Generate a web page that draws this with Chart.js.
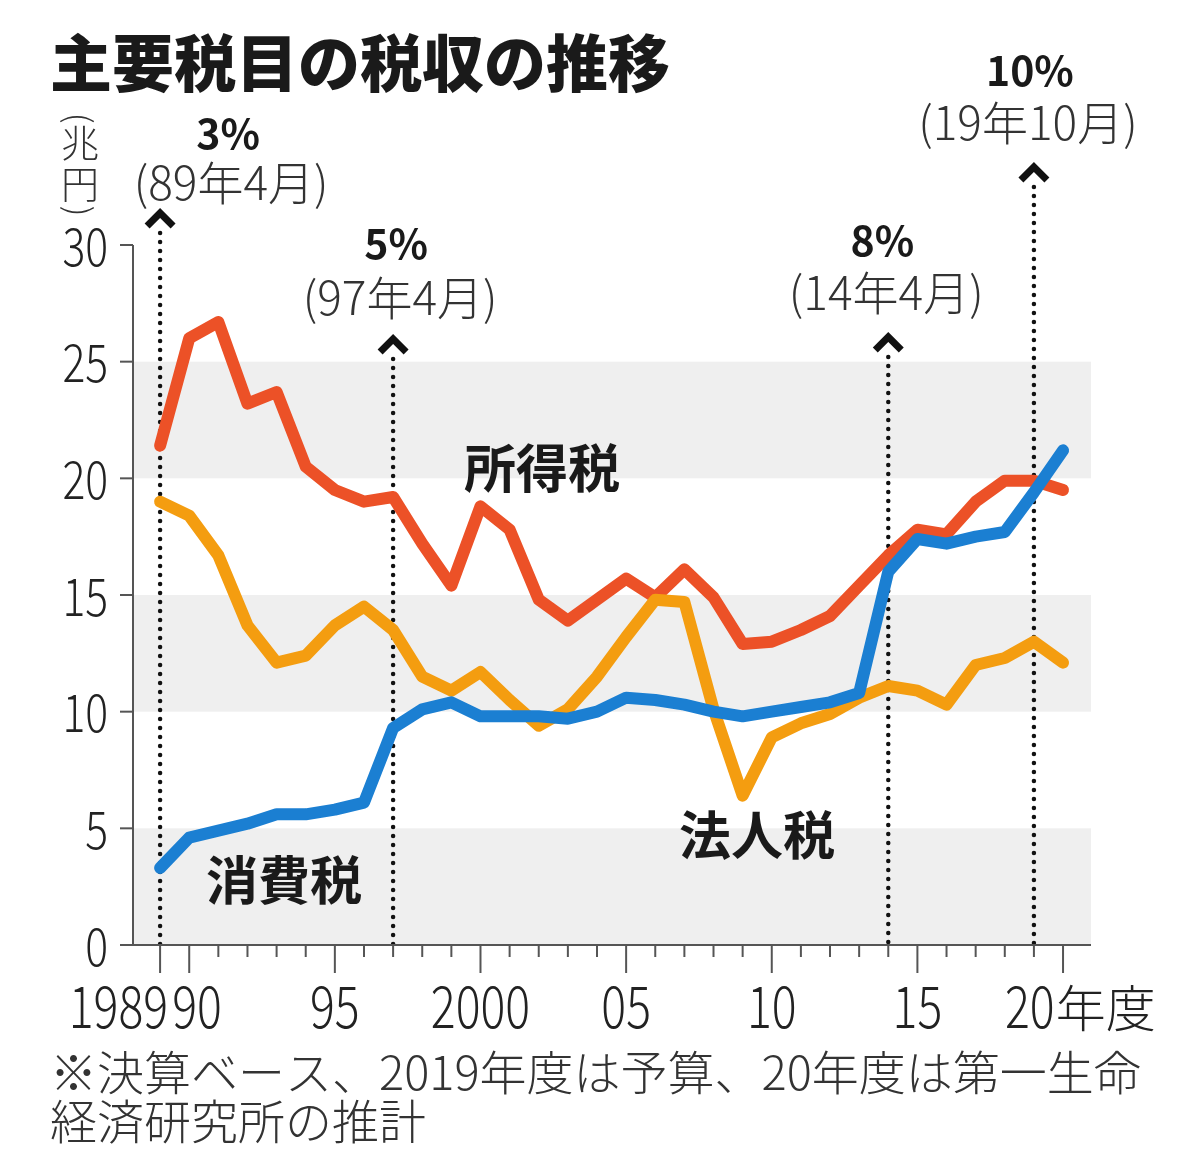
<!DOCTYPE html>
<html><head><meta charset="utf-8">
<script src="https://cdn.jsdelivr.net/npm/chart.js@4.4.1/dist/chart.umd.min.js"></script>
<style>html,body{margin:0;padding:0;background:#fff;}canvas{display:block;}</style>
</head><body>
<canvas id="c" width="1191" height="1176"></canvas>
<script>
// ---- data ----
const years = [1989,1990,1991,1992,1993,1994,1995,1996,1997,1998,1999,2000,2001,2002,2003,2004,2005,2006,2007,2008,2009,2010,2011,2012,2013,2014,2015,2016,2017,2018,2019,2020];
const incomeTax = [21.4,26.0,26.7,23.2,23.7,20.5,19.5,19.0,19.2,17.2,15.4,18.8,17.8,14.8,13.9,14.8,15.7,14.9,16.1,14.9,12.9,13.0,13.5,14.1,15.4,16.7,17.8,17.6,19.0,19.9,19.9,19.5];
const corporateTax = [19.0,18.4,16.7,13.7,12.1,12.4,13.7,14.5,13.5,11.5,10.9,11.7,10.5,9.4,10.1,11.5,13.2,14.8,14.7,10.1,6.4,8.9,9.5,9.9,10.6,11.1,10.9,10.3,12.0,12.3,13.0,12.1];
const consumptionTax = [3.3,4.6,4.9,5.2,5.6,5.6,5.8,6.1,9.3,10.1,10.4,9.8,9.8,9.8,9.7,10.0,10.6,10.5,10.3,10.0,9.8,10.0,10.2,10.4,10.8,16.0,17.4,17.2,17.5,17.7,19.4,21.2];
const seriesNames = ['所得税','法人税','消費税'];
const yTicks = [0,5,10,15,20,25,30];
const bandRanges = [[0,5],[10,15],[20,25]];
const labelYears = [1989,1990,1995,2000,2005,2010,2015,2020];
const labelTexts = ['1989','90','95','2000','05','10','15','20'];
const unitSuffix = '年度';
const eventYears = [1989,1997,2014,2019];
const eventRates = ['3%','5%','8%','10%'];
const eventDates = ['(89年4月)','(97年4月)','(14年4月)','(19年10月)'];
const titleText = '主要税目の税収の推移';
const unitChars = ['兆','円'];
const noteLines = ['※決算ベース、2019年度は予算、20年度は第一生命','経済研究所の推計'];

// ---- layout / style (not data) ----
const JP_FONT = "'Noto Sans CJK JP','Noto Sans CJK SC',sans-serif";
const COLORS = ['#ec5127','#f49d10','#1b7fd2'];
// per event: [rate dx, rate y, date dx, date y, chevron top y]
const eventLayout = [[68,133,71,183,208],[3,243,7,298,334],[-6,240,-2,293,332],[-4,70,-6,123,162]];
const seriesLabelPos = [[542,468],[757,835],[284,880]];

function pts(arr){ return years.map((y,i)=>({x:y,y:arr[i]})); }

// condensed text: draws with horizontal squeeze sx
function drawCond(ctx, text, x, y, align, font, sx){
  ctx.save();
  ctx.font = font;
  const w = ctx.measureText(text).width * sx;
  let left = x;
  if (align === 'right') left = x - w;
  else if (align === 'center') left = x - w/2;
  ctx.translate(left, y);
  ctx.scale(sx, 1);
  ctx.textAlign = 'left';
  ctx.fillText(text, 0, 0);
  ctx.restore();
  return w;
}

const bgPlugin = {
  id:'bg',
  beforeDatasetsDraw(chart){
    const {ctx, chartArea:a, scales:{x,y}} = chart;
    ctx.save();
    ctx.fillStyle = '#efefef';
    bandRanges.forEach(([lo,hi])=>{
      const t = y.getPixelForValue(hi), b = y.getPixelForValue(lo);
      ctx.fillRect(a.left, t, a.right-a.left, b-t);
    });
    ctx.strokeStyle = '#111';
    ctx.lineWidth = 4.5;
    ctx.lineCap = 'round';
    ctx.setLineDash([0,9]);
    eventYears.forEach((ev,i)=>{
      const px = x.getPixelForValue(ev);
      ctx.beginPath();
      ctx.moveTo(px, eventLayout[i][4]+25);
      ctx.lineTo(px, y.getPixelForValue(0));
      ctx.stroke();
    });
    ctx.setLineDash([]);
    ctx.strokeStyle = '#555';
    ctx.lineWidth = 2;
    ctx.lineCap = 'butt';
    ctx.beginPath();
    ctx.moveTo(a.left, y.getPixelForValue(30));
    ctx.lineTo(a.left, y.getPixelForValue(0));
    ctx.stroke();
    const y0 = y.getPixelForValue(0);
    ctx.beginPath();
    ctx.moveTo(a.left-13, y0);
    ctx.lineTo(a.right, y0);
    ctx.stroke();
    yTicks.forEach(v=>{
      const py = y.getPixelForValue(v);
      ctx.beginPath(); ctx.moveTo(a.left-13, py); ctx.lineTo(a.left, py); ctx.stroke();
    });
    years.forEach(yr=>{
      const px = x.getPixelForValue(yr);
      const len = labelYears.includes(yr) ? 28 : 12;
      ctx.beginPath(); ctx.moveTo(px, y0); ctx.lineTo(px, y0+len); ctx.stroke();
    });
    ctx.restore();
  }
};

const fgPlugin = {
  id:'fg',
  afterDraw(chart){
    const {ctx, scales:{x,y}} = chart;
    ctx.save();
    ctx.textBaseline = 'middle';
    // y tick labels
    ctx.fillStyle = '#222';
    const yFont = '300 52px ' + JP_FONT;
    yTicks.forEach(v=>{
      drawCond(ctx, String(v), 108, y.getPixelForValue(v)+1, 'right', yFont, 0.82);
    });
    // x tick labels
    const xFont = '300 58px ' + JP_FONT;
    const ly = 1006;
    labelYears.forEach((yr,i)=>{
      const px = x.getPixelForValue(yr);
      const t = labelTexts[i];
      if (i===0) drawCond(ctx, t, px+8, ly, 'right', xFont, 0.8);
      else if (i===1) drawCond(ctx, t, px-17, ly, 'left', xFont, 0.8);
      else if (i===labelYears.length-1){
        const w = drawCond(ctx, t, px-58, ly, 'left', xFont, 0.8);
        ctx.font = '300 50px ' + JP_FONT;
        ctx.textAlign = 'left';
        ctx.fillText(unitSuffix, px-58+w+1, ly+2);
      } else drawCond(ctx, t, px, ly, 'center', xFont, 0.8);
    });
    // title
    ctx.fillStyle = '#1a1a1a';
    ctx.textAlign = 'left';
    ctx.font = '900 62px ' + JP_FONT;
    ctx.fillText(titleText, 50, 63);
    // unit (vertical)
    ctx.fillStyle = '#333';
    ctx.font = '300 38px ' + JP_FONT;
    ctx.textAlign = 'center';
    ctx.fillText(unitChars[0], 80, 143);
    ctx.fillText(unitChars[1], 80, 184);
    [['(',118],[')',211]].forEach(([ch,cy])=>{
      ctx.save(); ctx.translate(80, cy); ctx.rotate(Math.PI/2);
      ctx.font = '300 34px ' + JP_FONT;
      ctx.fillText(ch, 0, 0); ctx.restore();
    });
    // events
    eventYears.forEach((ev,i)=>{
      const px = x.getPixelForValue(ev);
      const L = eventLayout[i];
      ctx.fillStyle = '#1a1a1a';
      ctx.textAlign = 'center';
      ctx.font = 'bold 41px ' + JP_FONT;
      ctx.fillText(eventRates[i], px+L[0], L[1]);
      ctx.fillStyle = '#333';
      ctx.font = '300 46px ' + JP_FONT;
      ctx.fillText(eventDates[i], px+L[2], L[3]);
      ctx.strokeStyle = '#111';
      ctx.lineWidth = 7;
      ctx.lineJoin = 'miter';
      ctx.lineCap = 'butt';
      ctx.beginPath();
      ctx.moveTo(px-13, L[4]+18);
      ctx.lineTo(px, L[4]+5);
      ctx.lineTo(px+13, L[4]+18);
      ctx.stroke();
    });
    // series labels
    ctx.fillStyle = '#1a1a1a';
    ctx.font = 'bold 52px ' + JP_FONT;
    ctx.textAlign = 'center';
    seriesNames.forEach((n,i)=>{
      ctx.fillText(n, seriesLabelPos[i][0], seriesLabelPos[i][1]);
    });
    // footnote
    ctx.fillStyle = '#333';
    ctx.textAlign = 'left';
    ctx.font = '300 47px ' + JP_FONT;
    ctx.fillText(noteLines[0], 50, 1072);
    ctx.fillText(noteLines[1], 50, 1121);
    ctx.restore();
  }
};

new Chart(document.getElementById('c').getContext('2d'), {
  type:'line',
  data:{datasets:[
    {label:seriesNames[0], data:pts(incomeTax), borderColor:COLORS[0], order:3},
    {label:seriesNames[1], data:pts(corporateTax), borderColor:COLORS[1], order:2},
    {label:seriesNames[2], data:pts(consumptionTax), borderColor:COLORS[2], order:1}
  ]},
  options:{
    responsive:false, animation:false,
    layout:{padding:{left:133,right:100,top:245,bottom:231}},
    elements:{line:{borderWidth:12,tension:0,borderCapStyle:'round',borderJoinStyle:'round',fill:false},point:{radius:0,hoverRadius:0}},
    scales:{
      x:{type:'linear',min:1988.07,max:2020.96,display:false},
      y:{min:0,max:30,display:false}
    },
    plugins:{legend:{display:false},tooltip:{enabled:false}}
  },
  plugins:[bgPlugin, fgPlugin]
});
</script>
</body></html>
